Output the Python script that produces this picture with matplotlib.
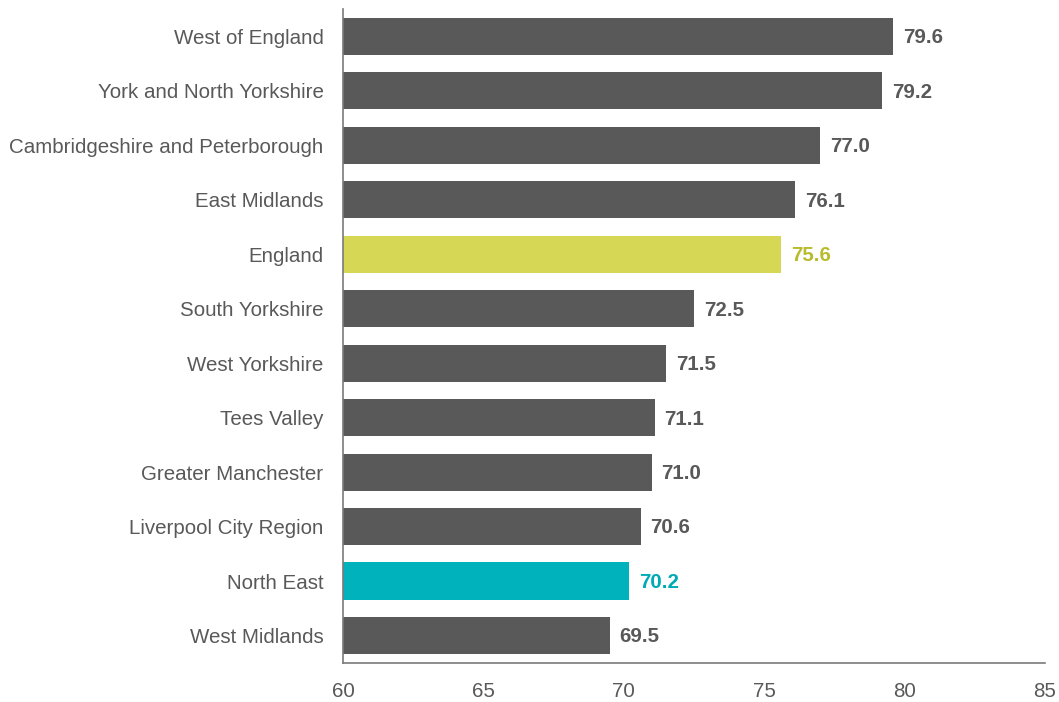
import matplotlib
matplotlib.use("Agg")
import matplotlib.pyplot as plt

regions = [
    "West of England",
    "York and North Yorkshire",
    "Cambridgeshire and Peterborough",
    "East Midlands",
    "England",
    "South Yorkshire",
    "West Yorkshire",
    "Tees Valley",
    "Greater Manchester",
    "Liverpool City Region",
    "North East",
    "West Midlands",
]
values = [79.6, 79.2, 77.0, 76.1, 75.6, 72.5, 71.5, 71.1, 71.0, 70.6, 70.2, 69.5]
x_ticks = [60, 65, 70, 75, 80, 85]

DARK = "#595959"
bar_colors = {"England": "#d7d756", "North East": "#00b2bb"}
label_colors = {"England": "#b9bb2c", "North East": "#00abb5"}

plt.rcParams["font.family"] = ["Liberation Sans", "DejaVu Sans"]

fig = plt.figure(figsize=(10.59, 7.02), dpi=100)
ax = fig.add_axes([0.3239, 0.056, 0.6629, 0.9308])

ypos = list(range(len(regions)))
colors = [bar_colors.get(r, DARK) for r in regions]
ax.barh(ypos, values, height=0.68, color=colors, left=0, zorder=2)

for y, r, v in zip(ypos, regions, values):
    ax.annotate(f"{v:.1f}", xy=(v, y), xytext=(7, -1), textcoords="offset points",
                ha="left", va="center", fontsize=14.8, fontweight="bold",
                color=label_colors.get(r, DARK))

ax.set_xlim(60, 85)
ax.set_ylim(len(regions) - 0.5, -0.5)
ax.set_yticks(ypos)
ax.set_yticklabels(regions)
ax.set_xticks(x_ticks)
ax.set_xticklabels([str(t) for t in x_ticks])

ax.tick_params(axis="y", length=0, pad=14, labelsize=14.8, labelcolor=DARK)
ax.tick_params(axis="x", length=0, pad=14, labelsize=14.8, labelcolor=DARK)

for side in ("top", "right"):
    ax.spines[side].set_visible(False)
for side in ("left", "bottom"):
    ax.spines[side].set_color("#7a7a7a")
    ax.spines[side].set_linewidth(1.2)

fig.savefig("out.png", dpi=100)
